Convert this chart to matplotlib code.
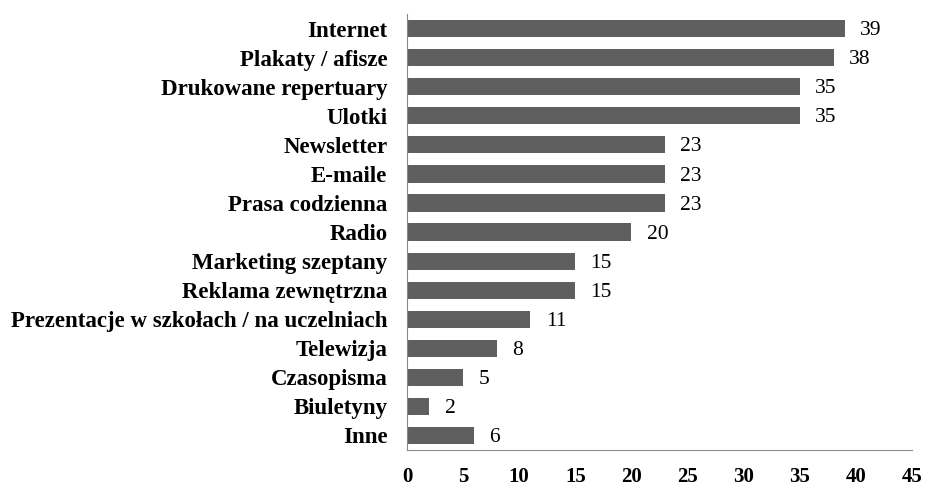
import matplotlib.pyplot as plt
import numpy as np

# dane
kategorie = ['Internet', 'Plakaty / afisze', 'Drukowane repertuary', 'Ulotki',
             'Newsletter', 'E-maile', 'Prasa codzienna', 'Radio',
             'Marketing szeptany', 'Reklama zewnętrzna',
             'Prezentacje w szkołach / na uczelniach', 'Telewizja',
             'Czasopisma', 'Biuletyny', 'Inne']
wartosci = [39, 38, 35, 35, 23, 23, 23, 20, 15, 15, 11, 8, 5, 2, 6]
ticki_x = [0, 5, 10, 15, 20, 25, 30, 35, 40, 45]

plt.rcParams['font.family'] = ['Liberation Serif', 'DejaVu Serif']

fig = plt.figure(figsize=(9.27, 4.88), dpi=100)
ax = fig.add_axes([0.439, 0.078, 0.545, 0.893])

y = np.arange(len(kategorie))
bars = ax.barh(y, wartosci, height=0.59, color='#5f5f5f')

for b, v in zip(bars, wartosci):
    ax.annotate(str(v), (b.get_width(), b.get_y() + b.get_height() / 2),
                xytext=(11, -1.5), textcoords='offset points',
                ha='left', va='center', fontsize=15.5)

ax.set_ylim(len(kategorie) - 0.5, -0.5)
ax.set_xlim(0, 45)
ax.set_yticks(y)
ax.set_yticklabels(kategorie, fontsize=16.5, fontweight='bold')
ax.set_xticks(ticki_x)
ax.set_xticklabels([str(t) for t in ticki_x], fontsize=15, fontweight='bold')
ax.tick_params(axis='y', length=0, pad=14)
ax.tick_params(axis='x', length=0, pad=12)

for s in ['top', 'right']:
    ax.spines[s].set_visible(False)
ax.spines['left'].set_color('#8a8a8a')
ax.spines['bottom'].set_color('#8a8a8a')

plt.savefig('out.png', dpi=100)
